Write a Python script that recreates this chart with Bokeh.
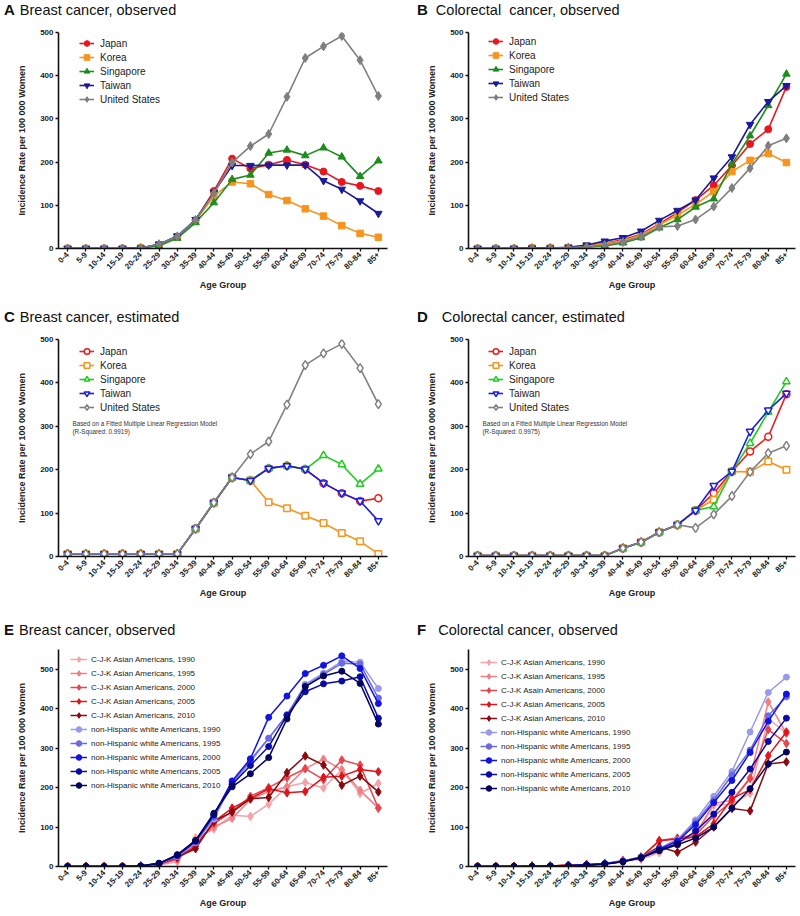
from math import pi
from bokeh.plotting import figure
from bokeh.models import FactorRange, Range1d, FixedTicker, Label, Legend, LegendItem, Div, Spacer
from bokeh.layouts import column, row
from bokeh.embed import file_html
from bokeh.resources import INLINE

FONT = "Liberation Sans"

age_groups = ["0-4", "5-9", "10-14", "15-19", "20-24", "25-29", "30-34", "35-39", "40-44",
              "45-49", "50-54", "55-59", "60-64", "65-69", "70-74", "75-79", "80-84", "85+"]
y_ticks = [0, 100, 200, 300, 400, 500]
countries = ["Japan", "Korea", "Singapore", "Taiwan", "United States"]

# A: Breast cancer, observed
breast_obs_japan = [0, 0, 0, 0, 1, 9, 27, 65, 133, 208, 185, 194, 205, 194, 178, 154, 145, 133]
breast_obs_korea = [0, 0, 0, 0, 1, 8, 26, 64, 121, 154, 150, 125, 111, 92, 75, 53, 35, 26]
breast_obs_singapore = [0, 0, 0, 0, 1, 6, 24, 60, 106, 160, 170, 221, 228, 215, 233, 212, 167, 203]
breast_obs_taiwan = [0, 0, 0, 0, 1, 10, 29, 67, 130, 192, 192, 193, 193, 193, 157, 137, 110, 81]
breast_obs_us = [0, 0, 0, 0, 1, 10, 28, 66, 128, 199, 237, 265, 351, 441, 468, 492, 436, 353]

# B: Colorectal cancer, observed
crc_obs_japan = [0, 0, 0, 1, 1, 2, 5, 12, 20, 33, 57, 83, 112, 146, 192, 242, 276, 374]
crc_obs_korea = [0, 0, 0, 1, 1, 2, 5, 11, 18, 31, 55, 77, 102, 132, 178, 204, 220, 199]
crc_obs_singapore = [0, 0, 0, 0, 1, 1, 3, 6, 13, 25, 48, 67, 96, 115, 196, 261, 331, 404]
crc_obs_taiwan = [0, 0, 0, 1, 1, 3, 8, 17, 25, 40, 65, 88, 112, 163, 212, 287, 340, 377]
crc_obs_us = [0, 0, 0, 1, 1, 2, 4, 8, 15, 28, 50, 52, 67, 97, 140, 186, 238, 255]

# C: Breast cancer, estimated
breast_est_japan = [6, 6, 6, 6, 6, 6, 6, 64, 124, 182, 175, 203, 209, 201, 169, 146, 128, 134]
breast_est_korea = [6, 6, 6, 6, 6, 6, 6, 64, 124, 182, 175, 125, 111, 94, 77, 54, 35, 6]
breast_est_singapore = [6, 6, 6, 6, 6, 6, 6, 64, 124, 182, 175, 203, 209, 201, 233, 212, 167, 202]
breast_est_taiwan = [6, 6, 6, 6, 6, 6, 6, 64, 124, 182, 175, 203, 209, 201, 169, 146, 128, 82]
breast_est_us = [6, 6, 6, 6, 6, 6, 6, 64, 124, 182, 236, 265, 350, 441, 468, 490, 434, 351]

# D: Colorectal cancer, estimated
crc_est_japan = [2, 2, 2, 2, 2, 2, 2, 2, 19, 33, 56, 73, 106, 146, 196, 242, 276, 374]
crc_est_korea = [2, 2, 2, 2, 2, 2, 2, 2, 19, 33, 56, 73, 106, 131, 196, 195, 219, 200]
crc_est_singapore = [2, 2, 2, 2, 2, 2, 2, 2, 19, 33, 56, 73, 106, 115, 196, 261, 333, 403]
crc_est_taiwan = [2, 2, 2, 2, 2, 2, 2, 2, 19, 33, 56, 73, 106, 163, 196, 288, 337, 376]
crc_est_us = [2, 2, 2, 2, 2, 2, 2, 2, 19, 33, 56, 73, 66, 97, 139, 195, 238, 255]

# E: Breast cancer, observed (US groups by year)
breast_asian_1990 = [0, 0, 0, 0, 1, 4, 12, 73, 95, 130, 127, 158, 202, 213, 199, 245, 185, 211]
breast_asian_1995 = [0, 0, 0, 0, 1, 5, 17, 65, 100, 122, 170, 190, 202, 248, 272, 245, 193, 148]
breast_asian_2000 = [0, 0, 0, 0, 1, 5, 20, 55, 108, 140, 178, 200, 225, 248, 220, 270, 257, 148]
breast_asian_2005 = [0, 0, 0, 0, 1, 6, 22, 50, 113, 148, 172, 197, 187, 190, 226, 229, 246, 240]
breast_asian_2010 = [0, 0, 0, 0, 1, 6, 24, 45, 115, 138, 172, 175, 238, 280, 257, 206, 229, 189]
breast_white_1990 = [0, 0, 0, 0, 1, 7, 25, 60, 120, 210, 265, 325, 383, 462, 490, 520, 518, 451]
breast_white_1995 = [0, 0, 0, 0, 1, 7, 26, 62, 125, 213, 270, 325, 385, 458, 487, 515, 513, 427]
breast_white_2000 = [0, 0, 0, 0, 1, 8, 28, 64, 130, 217, 273, 378, 432, 489, 510, 534, 502, 413]
breast_white_2005 = [0, 0, 0, 0, 1, 8, 29, 65, 132, 208, 256, 304, 383, 443, 463, 470, 481, 376]
breast_white_2010 = [0, 0, 0, 0, 1, 8, 30, 66, 135, 202, 235, 276, 374, 456, 483, 495, 464, 361]

# F: Colorectal cancer, observed (US groups by year)
crc_asian_1990 = [0, 0, 0, 1, 1, 3, 4, 6, 15, 18, 35, 62, 78, 155, 158, 185, 375, 337]
crc_asian_1995 = [0, 0, 0, 1, 1, 3, 5, 7, 16, 20, 45, 70, 82, 160, 168, 225, 417, 337]
crc_asian_2000 = [0, 0, 0, 1, 1, 3, 5, 7, 14, 22, 66, 72, 80, 128, 165, 223, 347, 312]
crc_asian_2005 = [0, 0, 0, 1, 1, 3, 5, 7, 14, 24, 65, 70, 75, 108, 172, 195, 281, 341]
crc_asian_2010 = [0, 0, 0, 1, 1, 3, 4, 6, 13, 24, 50, 36, 62, 100, 147, 141, 260, 265]
crc_white_1990 = [0, 0, 0, 0, 1, 2, 4, 7, 14, 24, 45, 68, 118, 178, 241, 341, 441, 480]
crc_white_1995 = [0, 0, 0, 0, 1, 2, 4, 7, 14, 23, 44, 66, 112, 168, 232, 295, 382, 430]
crc_white_2000 = [0, 0, 0, 0, 1, 2, 4, 7, 13, 23, 44, 64, 106, 162, 218, 289, 368, 437]
crc_white_2005 = [0, 0, 0, 0, 1, 2, 4, 7, 12, 22, 42, 58, 90, 133, 188, 247, 317, 376]
crc_white_2010 = [0, 0, 0, 0, 1, 2, 4, 6, 12, 22, 40, 55, 72, 100, 148, 197, 260, 290]

labels_E = ["C-J-K Asian Americans, 1990", "C-J-K Asian Americans, 1995", "C-J-K Asian Americans, 2000",
            "C-J-K Asian Americans, 2005", "C-J-K Asian Americans, 2010",
            "non-Hispanic white Americans, 1990", "non-Hispanic white Americans, 1995",
            "non-Hispanic white Americans, 2000", "non-Hispanic white Americans, 2005",
            "non-Hispanic white Americans, 2010"]
labels_F = ["C-J-K Asian Americans, 1990", "C-J-K Asian Americans, 1995", "C-J-K Asain Americans, 2000",
            "C-J-K Asian Americans, 2005", "C-J-K Asian Americans, 2010",
            "non-Hispanic white Americans, 1990", "non-Hispanic white Americans, 1995",
            "non-Hispanic white Americans, 2000", "non-Hispanic white Americans, 2005",
            "non-Hispanic white Americans, 2010"]

country_markers = ["circle", "square", "triangle", "inverted_triangle", "diamond"]
country_sizes = [7, 6.5, 7.5, 7.5, 9]
colors_obs = ["#e8161e", "#f7941d", "#1e8c1e", "#1a1a9a", "#7f7f7f"]
colors_est = ["#ee1c1c", "#f7941d", "#22cc22", "#1c1ce8", "#808080"]
colors_asian = ["#f4a3a8", "#f07f86", "#e8464e", "#e0141c", "#8c0a0f"]
colors_white = ["#9a9ae8", "#6a6ae4", "#1414e0", "#0a0aa8", "#05055e"]

YLABEL = "Incidence Rate per 100 000 Women"

LEFT = dict(width=400, left=58, fw=329, right=13, pad=4)
RIGHT = dict(width=400, left=68, fw=327, right=5, pad=17)
ROW1 = dict(spacer=0, top=12, fh=216, bottom=52)
ROW2 = dict(spacer=7, top=12, fh=217, bottom=44)
ROW3 = dict(spacer=20, top=9, fh=217, bottom=48)


def title_div(letter, title, col, gap):
    html = ('<div style="white-space:nowrap;padding-left:%dpx">'
            '<span style="font-weight:bold;font-size:15px">%s</span>'
            '<span style="display:inline-block;width:%dpx"></span>%s</div>') % (col["pad"], letter, gap, title)
    return Div(text=html, width=col["width"], height=20, margin=(0, 0, 0, 0),
               styles={"font-family": FONT + ", Arial, sans-serif", "font-size": "14.5px",
                       "line-height": "20px", "color": "#111111"})


def make_fig(col, rw, ytop):
    p = figure(x_range=FactorRange(factors=age_groups), y_range=Range1d(0, ytop),
               frame_width=col["fw"], frame_height=rw["fh"],
               min_border_left=col["left"], min_border_right=col["right"],
               min_border_top=rw["top"], min_border_bottom=rw["bottom"],
               output_backend="svg", toolbar_location=None, tools="",
               background_fill_color="white", border_fill_color="white")
    p.outline_line_color = None
    p.xgrid.grid_line_color = None
    p.ygrid.grid_line_color = None
    xa = p.xaxis[0]
    ya = p.yaxis[0]
    ya.ticker = FixedTicker(ticks=y_ticks)
    for ax in (xa, ya):
        ax.axis_line_width = 1.6
        ax.axis_line_color = "#111111"
        ax.major_tick_line_width = 1.3
        ax.major_tick_line_color = "#111111"
        ax.major_tick_out = 3
        ax.major_tick_in = 0
        ax.minor_tick_line_color = None
        ax.major_label_text_font = FONT
        ax.major_label_text_font_size = "8px"
        ax.major_label_text_font_style = "bold"
        ax.major_label_text_color = "#222222"
        ax.major_label_standoff = 2
        ax.axis_label_text_font = FONT
        ax.axis_label_text_font_size = "9px"
        ax.axis_label_text_font_style = "bold"
        ax.axis_label_text_color = "#222222"
    xa.major_label_orientation = pi / 4
    xa.axis_label = "Age Group"
    xa.axis_label_standoff = 5
    ya.axis_label = YLABEL
    ya.axis_label_standoff = 10
    return p


def country_panel(p, series, colors, hollow, leg_x, leg_off, fh):
    items = []
    for name, vals, color, marker, size in zip(countries, series, colors, country_markers, country_sizes):
        rl = p.line(age_groups, vals, line_color=color, line_width=1.6)
        if hollow:
            rs = p.scatter(age_groups, vals, marker=marker, size=size, line_color=color,
                           fill_color="white", line_width=1.5)
        else:
            rs = p.scatter(age_groups, vals, marker=marker, size=size, line_color=color,
                           fill_color=color, line_width=1)
        items.append(LegendItem(label=name, renderers=[rl, rs]))
    leg = Legend(items=items, location=(leg_x, fh - leg_off - 70),
                 padding=0, margin=0, spacing=0, label_height=14, glyph_height=14,
                 glyph_width=15, label_standoff=6, border_line_alpha=0, background_fill_alpha=0,
                 label_text_font=FONT, label_text_font_size="10px", label_text_color="#222222")
    p.add_layout(leg)


def group_panel(p, asian, white, labels, leg_x, leg_off, fh):
    rends = []
    for vals, color in zip(asian, colors_asian):
        rl = p.line(age_groups, vals, line_color=color, line_width=1.5)
        rs = p.scatter(age_groups, vals, marker="diamond", size=8.5, line_color=color, fill_color=color)
        rends.append((rl, rs))
    for vals, color in zip(white, colors_white):
        rl = p.line(age_groups, vals, line_color=color, line_width=1.5)
        rs = p.scatter(age_groups, vals, marker="circle", size=6, line_color=color, fill_color=color)
        rends.append((rl, rs))
    items = [LegendItem(label=lab, renderers=[rl, rs]) for lab, (rl, rs) in zip(labels, rends)]
    leg = Legend(items=items, location=(leg_x, fh - leg_off - 140),
                 padding=0, margin=0, spacing=0, label_height=14, glyph_height=14,
                 glyph_width=17, label_standoff=4, border_line_alpha=0, background_fill_alpha=0,
                 label_text_font=FONT, label_text_font_size="8px", label_text_color="#222222")
    p.add_layout(leg)


def add_note(p, text2, fh):
    note1 = "Based on a Fitted Multiple Linear Regression Model"
    for i, t in enumerate([note1, text2]):
        p.add_layout(Label(x=14, y=fh - 84 - 8 * i, x_units="screen", y_units="screen",
                           text=t, text_font=FONT, text_font_size="6.3px", text_baseline="middle",
                           text_color="#333333"))


def panel_column(div, fig, rw, col):
    kids = []
    if rw["spacer"] > 0:
        kids.append(Spacer(width=col["width"], height=rw["spacer"]))
    kids.append(div)
    kids.append(fig)
    return column(*kids, spacing=0)


pA = make_fig(LEFT, ROW1, 500)
country_panel(pA, [breast_obs_japan, breast_obs_korea, breast_obs_singapore, breast_obs_taiwan, breast_obs_us],
              colors_obs, False, 21, 4, ROW1["fh"])
dA = title_div("A", "Breast cancer, observed", LEFT, 5)

pB = make_fig(RIGHT, ROW1, 500)
country_panel(pB, [crc_obs_japan, crc_obs_korea, crc_obs_singapore, crc_obs_taiwan, crc_obs_us],
              colors_obs, False, 20, 2, ROW1["fh"])
dB = title_div("B", "Colorectal&nbsp; cancer, observed", RIGHT, 8)

pC = make_fig(LEFT, ROW2, 500)
country_panel(pC, [breast_est_japan, breast_est_korea, breast_est_singapore, breast_est_taiwan, breast_est_us],
              colors_est, True, 21, 5, ROW2["fh"])
add_note(pC, "(R-Squared: 0.9919)", ROW2["fh"])
dC = title_div("C", "Breast cancer, estimated", LEFT, 5)

pD = make_fig(RIGHT, ROW2, 500)
country_panel(pD, [crc_est_japan, crc_est_korea, crc_est_singapore, crc_est_taiwan, crc_est_us],
              colors_est, True, 20, 5, ROW2["fh"])
add_note(pD, "(R-Squared: 0.9975)", ROW2["fh"])
dD = title_div("D", "Colorectal cancer, estimated", RIGHT, 14)

pE = make_fig(LEFT, ROW3, 550)
group_panel(pE, [breast_asian_1990, breast_asian_1995, breast_asian_2000, breast_asian_2005, breast_asian_2010],
            [breast_white_1990, breast_white_1995, breast_white_2000, breast_white_2005, breast_white_2010],
            labels_E, 12, 3, ROW3["fh"])
dE = title_div("E", "Breast cancer, observed", LEFT, 5)

pF = make_fig(RIGHT, ROW3, 550)
group_panel(pF, [crc_asian_1990, crc_asian_1995, crc_asian_2000, crc_asian_2005, crc_asian_2010],
            [crc_white_1990, crc_white_1995, crc_white_2000, crc_white_2005, crc_white_2010],
            labels_F, 12, 6, ROW3["fh"])
dF = title_div("F", "Colorectal cancer, observed", RIGHT, 12)

layout = column(
    row(panel_column(dA, pA, ROW1, LEFT), panel_column(dB, pB, ROW1, RIGHT), spacing=0),
    row(panel_column(dC, pC, ROW2, LEFT), panel_column(dD, pD, ROW2, RIGHT), spacing=0),
    row(panel_column(dE, pE, ROW3, LEFT), panel_column(dF, pF, ROW3, RIGHT), spacing=0),
    spacing=0,
)

with open("out.html", "w") as f:
    f.write(file_html(layout, INLINE))
